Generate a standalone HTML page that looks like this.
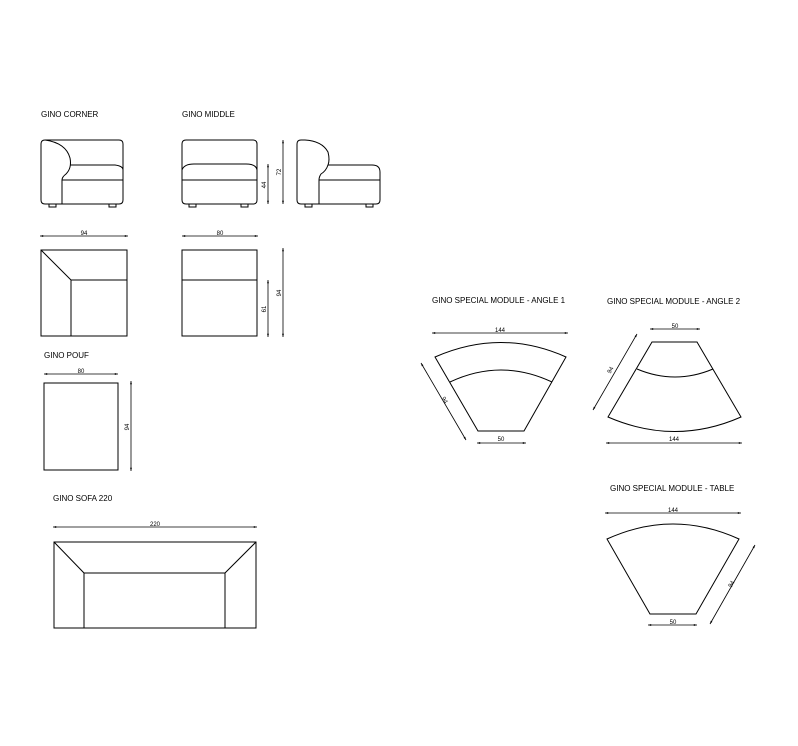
<!DOCTYPE html>
<html><head><meta charset="utf-8"><style>
html,body{margin:0;padding:0;background:#fff;}
svg{display:block;}
text{font-family:"Liberation Sans",sans-serif;fill:#000;}
.t{font-size:8px;}
.d{font-size:6px;}
</style></head><body>
<svg width="798" height="746" viewBox="0 0 798 746" xmlns="http://www.w3.org/2000/svg">
<defs>
<marker id="a" viewBox="0 0 10 10" refX="10" refY="5" markerWidth="6" markerHeight="4" orient="auto-start-reverse"><path d="M0,2 L10,5 L0,8 z" fill="#000"/></marker>
</defs>
<g fill="none" stroke="#000" stroke-width="1">
<!-- corner front -->
<path d="M45,140 H119 Q123,140 123,144 V200 Q123,204 119,204 H45 Q41,204 41,200 V144 Q41,140 45,140 Z"/>
<path d="M45,140 Q66,143 70,158 Q72,168 66,174 Q62,177 62,180 V204"/>
<path d="M70,165 H115 Q123,166 123,170"/>
<line x1="62" y1="180" x2="123" y2="180"/>
<rect x="49" y="204" width="7" height="3"/><rect x="109" y="204" width="7" height="3"/>
<!-- middle front -->
<path d="M186,140 H253 Q257,140 257,144 V200 Q257,204 253,204 H186 Q182,204 182,200 V144 Q182,140 186,140 Z"/>
<path d="M182,170 Q184,164 194,164 H246 Q256,164 257,170"/>
<line x1="182" y1="180" x2="257" y2="180"/>
<rect x="189" y="204" width="7" height="3"/><rect x="241" y="204" width="7" height="3"/>
<!-- side -->
<path d="M301,140 Q297,140 297,144 V200 Q297,204 301,204 H376 Q380,204 380,200 V172 Q380,165 372,165 H328 Q330,160 328,152 Q322,141 305,140 Z"/>
<path d="M328,165 Q326,171 321,174 Q319,177 319,180 V204"/>
<line x1="319" y1="180" x2="380" y2="180"/>
<rect x="305" y="204" width="7" height="3"/><rect x="366" y="204" width="7" height="3"/>
<!-- corner plan -->
<rect x="41" y="250" width="86" height="86"/>
<line x1="41" y1="250" x2="71" y2="280"/><line x1="71" y1="280" x2="127" y2="280"/><line x1="71" y1="280" x2="71" y2="336"/>
<!-- middle plan -->
<rect x="182" y="250" width="75" height="86"/><line x1="182" y1="280" x2="257" y2="280"/>
<!-- pouf -->
<rect x="44" y="383" width="74" height="87"/>
<!-- sofa -->
<rect x="54" y="542" width="202" height="86"/>
<line x1="54" y1="542" x2="84" y2="573"/><line x1="256" y1="542" x2="225" y2="573"/>
<line x1="84" y1="573" x2="225" y2="573"/><line x1="84" y1="573" x2="84" y2="628"/><line x1="225" y1="573" x2="225" y2="628"/>
<!-- angle 1 -->
<path d="M435,357 Q501,328 566,357 L524,431 H478 Z"/>
<path d="M450,382 Q501,358 552,382"/>
<!-- angle 2 -->
<path d="M652,342 H697 L741,417 Q675,446 608,417 Z"/>
<path d="M637,369 Q675,385 713,369"/>
<!-- table -->
<path d="M607,539 Q673,509 739,539 L696,614 H650 Z"/>
</g>
<g stroke="#000" stroke-width="0.8" fill="none" marker-start="url(#a)" marker-end="url(#a)">
<line x1="268" y1="164" x2="268" y2="204"/>
<line x1="283" y1="140" x2="283" y2="204"/>
<line x1="40" y1="236" x2="128" y2="236"/>
<line x1="182" y1="236" x2="258" y2="236"/>
<line x1="268" y1="280" x2="268" y2="337"/>
<line x1="283" y1="248" x2="283" y2="337"/>
<line x1="44" y1="374" x2="118" y2="374"/>
<line x1="131" y1="381" x2="131" y2="471"/>
<line x1="53" y1="527" x2="257" y2="527"/>
<line x1="432" y1="333" x2="568" y2="333"/>
<line x1="477" y1="443" x2="526" y2="443"/>
<line x1="421" y1="363" x2="466" y2="440"/>
<line x1="650" y1="329" x2="700" y2="329"/>
<line x1="606" y1="443" x2="742" y2="443"/>
<line x1="593" y1="410" x2="637" y2="334"/>
<line x1="605" y1="513" x2="741" y2="513"/>
<line x1="648" y1="625" x2="697" y2="625"/>
<line x1="755" y1="545" x2="710" y2="624"/>
</g>
<text class="t" x="41" y="117">GINO CORNER</text>
<text class="t" x="182" y="117">GINO MIDDLE</text>
<text class="t" x="44" y="358">GINO POUF</text>
<text class="t" x="53" y="501">GINO SOFA 220</text>
<text class="t" x="432" y="303">GINO SPECIAL MODULE - ANGLE 1</text>
<text class="t" x="607" y="304">GINO SPECIAL MODULE - ANGLE 2</text>
<text class="t" x="610" y="491">GINO SPECIAL MODULE -  TABLE</text>
<g class="d" text-anchor="middle">
<text x="84" y="235">94</text>
<text x="220" y="235">80</text>
<text x="81" y="373">80</text>
<text x="155" y="526">220</text>
<text x="500" y="332">144</text>
<text x="501" y="441">50</text>
<text x="675" y="328">50</text>
<text x="674" y="441">144</text>
<text x="673" y="512">144</text>
<text x="673" y="624">50</text>
<text transform="translate(266,185) rotate(-90)">44</text>
<text transform="translate(281,172) rotate(-90)">72</text>
<text transform="translate(266,309) rotate(-90)">61</text>
<text transform="translate(281,293) rotate(-90)">94</text>
<text transform="translate(129,427) rotate(-90)">94</text>
<text transform="translate(443,401) rotate(60)">94</text>
<text transform="translate(612,371) rotate(-60)">94</text>
<text transform="translate(733,585) rotate(-60)">94</text>
</g>
</svg>
</body></html>
